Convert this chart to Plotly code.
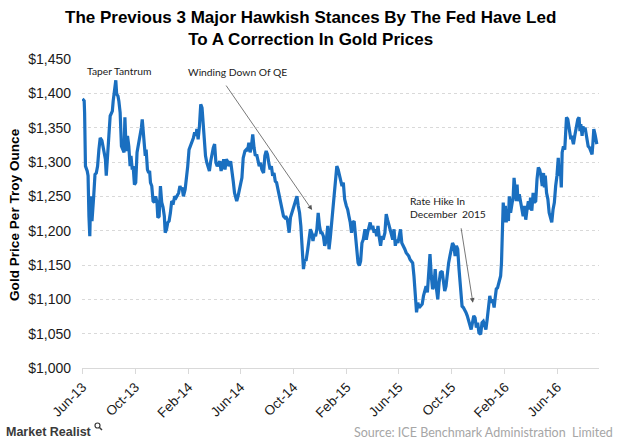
import plotly.graph_objects as go

# ---- data (gold price, US$/troy ounce) ----
dates_2013 = ["06-14","06-18","06-19","06-21","06-25","06-27","06-29",
              "07-01","07-03","07-06","07-10","07-13","07-16","07-19","07-22","07-25","07-29",
              "08-02","08-06","08-08","08-11","08-14","08-17","08-20","08-22","08-24","08-27","08-30",
              "09-01","09-04","09-06","09-09","09-12","09-15","09-18","09-20","09-23","09-26","09-29",
              "10-02","10-04","10-07","10-09","10-12","10-15","10-18","10-20","10-24","10-28","10-30",
              "11-01","11-04","11-06","11-08","11-11","11-14","11-16","11-18","11-21","11-24","11-27","11-30",
              "12-03","12-05","12-08","12-11","12-14","12-17","12-20","12-22","12-25","12-28","12-31"]
prices_2013 = [1392,1389,1372,1294,1287,1280,1221,
               1192,1250,1214,1250,1282,1284,1294,1318,1335,1331,
               1314,1304,1280,1318,1338,1367,1372,1374,1389,1406,1419,
               1399,1396,1389,1372,1323,1318,1314,1365,1316,1338,1323,
               1294,1309,1289,1294,1267,1270,1314,1321,1331,1350,1362,
               1348,1318,1309,1318,1289,1284,1287,1270,1265,1243,1241,1250,
               1241,1219,1221,1265,1241,1234,1221,1197,1202,1212,1214]

dates_2014 = ["01-03","01-06","01-10","01-13","01-16","01-19","01-22","01-25","01-28","01-30",
              "02-02","02-06","02-09","02-12","02-15","02-18","02-22","02-25","02-28",
              "03-03","03-05","03-08","03-11","03-14","03-17","03-20","03-22","03-25","03-28","03-31",
              "04-03","04-06","04-09","04-12","04-15","04-18","04-21","04-24","04-27","04-30",
              "05-03","05-06","05-09","05-12","05-15","05-18","05-22","05-25","05-28","05-31",
              "06-03","06-05","06-08","06-11","06-14","06-17","06-20","06-24","06-27","06-30",
              "07-03","07-06","07-09","07-12","07-15","07-18","07-21","07-24","07-27","07-30",
              "08-02","08-06","08-09","08-12","08-15","08-18","08-21","08-24","08-27","08-30",
              "09-02","09-05","09-08","09-11","09-14","09-17","09-21","09-24","09-26","09-30",
              "10-04","10-07","10-10","10-13","10-16","10-19","10-22","10-25","10-28","10-31",
              "11-03","11-06","11-09","11-12","11-16","11-19","11-22","11-25","11-28",
              "12-01","12-04","12-07","12-10","12-13","12-16","12-19","12-22","12-25","12-29"]
prices_2014 = [1226,1243,1241,1250,1248,1253,1255,1265,1260,1263,
               1250,1260,1275,1294,1318,1323,1331,1335,1343,
               1338,1348,1333,1352,1384,1379,1348,1333,1309,1299,1294,
               1287,1301,1314,1321,1326,1299,1294,1297,1301,1287,
               1294,1304,1289,1304,1301,1294,1301,1289,1272,1255,
               1248,1243,1250,1260,1270,1277,1306,1316,1318,1316,
               1328,1314,1323,1340,1321,1309,1311,1304,1294,1299,
               1289,1284,1309,1316,1311,1299,1289,1294,1280,1284,
               1272,1270,1260,1250,1241,1231,1221,1219,1221,1216,
               1197,1219,1226,1231,1238,1246,1250,1236,1226,1207,
               1168,1144,1158,1156,1173,1190,1202,1197,1185,
               1195,1192,1202,1226,1207,1197,1197,1192,1178,1187]

dates_2015 = ["01-01","01-04","01-07","01-10","01-13","01-16","01-19","01-22","01-25","01-28","01-31",
              "02-03","02-06","02-09","02-13","02-16","02-19","02-22","02-25","02-28",
              "03-03","03-06","03-09","03-12","03-15","03-18","03-21","03-24","03-28","03-31",
              "04-03","04-06","04-09","04-12","04-15","04-18","04-21","04-24","04-27","04-30",
              "05-03","05-06","05-09","05-13","05-16","05-19","05-22","05-27","05-31",
              "06-03","06-06","06-09","06-12","06-15","06-18","06-21","06-25","06-28",
              "07-01","07-04","07-07","07-10","07-13","07-16","07-19","07-22","07-25","07-28","07-31",
              "08-03","08-07","08-10","08-13","08-16","08-19","08-22","08-25","08-28","08-31",
              "09-03","09-06","09-09","09-12","09-15","09-18","09-22","09-25","09-28",
              "10-01","10-04","10-07","10-10","10-13","10-16","10-19","10-22","10-25","10-28","10-31",
              "11-04","11-07","11-10","11-13","11-16","11-19","11-22","11-25","11-28",
              "12-01","12-04","12-07","12-10","12-13","12-16","12-20","12-23","12-26","12-29"]
prices_2015 = [1207,1173,1190,1212,1226,1246,1275,1294,1289,1280,1270,
               1265,1270,1246,1236,1231,1221,1212,1197,1212,
               1214,1197,1173,1153,1149,1156,1182,1187,1202,1187,
               1197,1207,1212,1202,1207,1197,1202,1192,1207,1190,
               1178,1192,1187,1197,1224,1216,1207,1197,1187,
               1202,1178,1187,1182,1192,1202,1182,1178,1173,
               1168,1166,1163,1158,1156,1153,1134,1100,1081,1095,1088,
               1090,1093,1105,1115,1119,1110,1144,1166,1134,1115,
               1119,1144,1115,1100,1124,1139,1141,1124,1112,
               1119,1139,1153,1163,1173,1182,1178,1163,1178,1173,1144,
               1119,1090,1088,1085,1081,1076,1068,1061,1056,
               1066,1076,1073,1059,1066,1051,1049,1066,1068,1061]

dates_2016 = ["01-01","01-04","01-07","01-10","01-13","01-16","01-18","01-20","01-22","01-25","01-28","01-31",
              "02-04","02-06","02-08","02-10","02-13","02-15","02-17","02-20","02-22","02-24","02-27",
              "03-01","03-04","03-06","03-08","03-11","03-13","03-15","03-18","03-21","03-24","03-27","03-30",
              "04-02","04-05","04-08","04-11","04-13","04-16","04-19","04-22","04-25","04-28",
              "05-01","05-04","05-07","05-10","05-13","05-15","05-17","05-20","05-23","05-26","05-29",
              "06-01","06-04","06-07","06-10","06-13","06-16","06-18","06-21","06-23","06-25","06-28",
              "07-01","07-03","07-05","07-08","07-10","07-12","07-15","07-17","07-19","07-21","07-24","07-26","07-28","07-31",
              "08-03","08-05","08-07","08-10","08-12","08-14","08-17","08-19","08-21","08-24","08-27","08-30",
              "09-02","09-04","09-06","09-09","09-11","09-13"]
prices_2016 = [1056,1071,1085,1105,1095,1100,1095,1088,1100,1115,1117,1124,
               1134,1153,1187,1241,1212,1236,1212,1231,1214,1250,1226,
               1241,1250,1277,1265,1243,1267,1243,1253,1241,1226,1221,1236,
               1216,1231,1243,1231,1248,1229,1255,1241,1243,1275,
               1292,1289,1280,1265,1284,1263,1280,1255,1246,1226,1216,
               1212,1231,1241,1265,1280,1306,1280,1289,1263,1314,1323,
               1318,1340,1365,1362,1355,1350,1333,1338,1331,1326,1338,1345,1350,1362,
               1365,1345,1355,1338,1352,1345,1350,1343,1336,1323,1321,1316,
               1311,1328,1348,1340,1331,1326]

tick_dates = ["2013-06-14","2013-10-14","2014-02-14","2014-06-14","2014-10-14",
              "2015-02-14","2015-06-14","2015-10-14","2016-02-14","2016-06-14"]
tick_labels = ["Jun-13","Oct-13","Feb-14","Jun-14","Oct-14",
               "Feb-15","Jun-15","Oct-15","Feb-16","Jun-16"]

# ---- assemble ----
x, y = [], []
for yr, ds, ps in [(2013, dates_2013, prices_2013), (2014, dates_2014, prices_2014),
                   (2015, dates_2015, prices_2015), (2016, dates_2016, prices_2016)]:
    assert len(ds) == len(ps), (yr, len(ds), len(ps))
    x += [f"{yr}-{d}" for d in ds]
    y += ps

fig = go.Figure()
fig.add_trace(go.Scatter(x=x, y=y, mode="lines",
                         line=dict(color="#1a6fc0", width=3.2),
                         hoverinfo="skip", showlegend=False))

L, R, T, B = 82, 21, 59, 75
W, H = 620, 443
pw, ph = W - L - R, H - T - B
def px(xp):  # helper for paper coords of decorations
    return (xp - L) / pw
def py(yp):
    return (H - B - yp) / ph

label_font = dict(family="Lato, sans-serif", size=10.3, color="#1a1a1a")
arial = "Liberation Sans, Arial, sans-serif"

fig.update_layout(
    width=W, height=H,
    margin=dict(l=L, r=R, t=T, b=B),
    paper_bgcolor="white", plot_bgcolor="white",
    xaxis=dict(type="date", range=["2013-06-13", "2016-09-18"],
               tickvals=tick_dates, ticktext=tick_labels, tickangle=-45,
               showgrid=False, zeroline=False,
               showline=True, linecolor="#d9d9d9", linewidth=1,
               ticks="outside", ticklen=5, tickcolor="#d9d9d9",
               tickfont=dict(family=arial, size=13.5, color="#1a1a1a")),
    yaxis=dict(range=[1000, 1450], dtick=50, tickformat="$,.0f",
               showgrid=True, gridcolor="#d9d9d9", gridwidth=1, griddash="3px,3px",
               zeroline=False, showline=False, ticks="", ticklabelstandoff=10,
               tickfont=dict(family=arial, size=14, color="#1a1a1a")),
    annotations=[
        dict(text="<b>The Previous 3 Major Hawkish Stances By The Fed Have Led<br>To A Correction In Gold Prices</b>",
             xref="paper", yref="paper", x=px(310), y=py(28.5), xanchor="center", yanchor="middle",
             showarrow=False, font=dict(family=arial, size=17, color="#000000")),
        dict(text="<b>Gold Price Per Troy Ounce</b>", textangle=-90,
             xref="paper", yref="paper", x=px(14), y=py(215), xanchor="center", yanchor="middle",
             showarrow=False, font=dict(family=arial, size=13.6, color="#000000")),
        dict(text="Taper Tantrum", xref="paper", yref="paper", x=px(85), y=py(71),
             xanchor="left", yanchor="middle", showarrow=False, font=label_font),
        dict(text="Winding Down Of QE", xref="paper", yref="paper", x=px(186), y=py(72),
             xanchor="left", yanchor="middle", showarrow=False, font=label_font),
        dict(text="Rate Hike In<br>December  2015", xref="paper", yref="paper", x=px(408), y=py(207.5),
             xanchor="left", yanchor="middle", align="left", showarrow=False, font=label_font),
        dict(text="", x="2014-11-26", y=1230, ax=-87, ay=-126, showarrow=True,
             arrowhead=2, arrowsize=1.2, arrowwidth=0.8, arrowcolor="#555555", standoff=0),
        dict(text="", x="2015-12-02", y=1095, ax=-12, ay=-76, showarrow=True,
             arrowhead=2, arrowsize=1.2, arrowwidth=0.8, arrowcolor="#555555", standoff=0),
        dict(text="<b>Market Realist</b>", xref="paper", yref="paper", x=px(4), y=py(432),
             xanchor="left", yanchor="middle", showarrow=False,
             font=dict(family=arial, size=12.5, color="#3a3a3a")),
        dict(text="Source: ICE Benchmark Administration  Limited", xref="paper", yref="paper",
             x=px(615), y=py(432), xanchor="right", yanchor="middle", showarrow=False,
             font=dict(family="Lato, Open Sans, sans-serif", size=12.5, color="#a6a6a6")),
    ],
    shapes=[
        dict(type="circle", xref="paper", yref="paper",
             x0=px(95), x1=px(100), y0=py(428), y1=py(423),
             line=dict(color="#3a3a3a", width=1.2)),
        dict(type="line", xref="paper", yref="paper",
             x0=px(99.5), x1=px(102), y0=py(427.5), y1=py(430),
             line=dict(color="#3a3a3a", width=1.5)),
    ],
)

fig.write_html("out.html")
